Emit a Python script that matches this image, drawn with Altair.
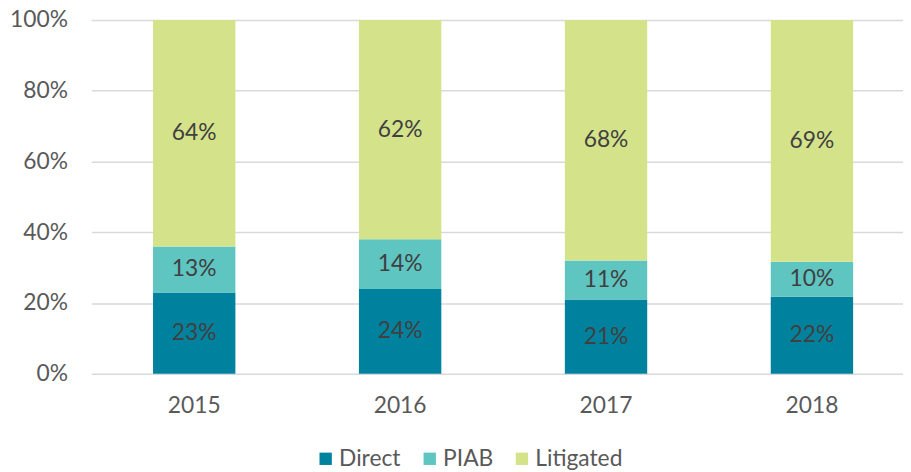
import altair as alt
import pandas as pd

years = ["2015", "2016", "2017", "2018"]
categories = ["Direct", "PIAB", "Litigated"]
direct = [23, 24, 21, 22]
piab = [13, 14, 11, 10]
litigated = [64, 62, 68, 69]
colors = ["#00829F", "#5EC5C1", "#D4E38A"]

rows = []
for i, y in enumerate(years):
    for j, (c, vals) in enumerate(zip(categories, [direct, piab, litigated])):
        rows.append({"year": y, "cat": c, "order": j, "value": vals[i],
                     "label": f"{vals[i]}%"})
df = pd.DataFrame(rows)

FONT = "Lato"
FS = 23

base = alt.Chart(df).transform_stack(
    stack="value", as_=["v0", "v1"], groupby=["year"],
    offset="normalize", sort=[alt.SortField("order", order="ascending")]
).transform_calculate(mid="(datum.v0 + datum.v1) / 2")

x = alt.X("year:N", title=None,
          scale=alt.Scale(range=[2, 833], paddingInner=0.6, paddingOuter=0.3),
          axis=alt.Axis(labelAngle=0, labelFont=FONT, labelFontSize=FS,
                        labelColor="#595959", domain=False, ticks=False,
                        labelPadding=21))

bars = base.mark_bar().encode(
    x=x,
    y=alt.Y("v0:Q", title=None,
            scale=alt.Scale(domain=[0, 1], nice=False),
            axis=alt.Axis(format=".0%", values=[0, 0.2, 0.4, 0.6, 0.8, 1.0],
                          labelFont=FONT, labelFontSize=FS, labelColor="#595959",
                          domain=False, ticks=False, labelPadding=22,
                          gridColor="#D9D9D9", gridWidth=1.5)),
    y2="v1:Q",
    color=alt.Color("cat:N", sort=categories,
                    scale=alt.Scale(domain=categories, range=colors),
                    legend=alt.Legend(title=None, orient="none", direction="horizontal",
                                      legendX=227, legendY=431,
                                      symbolType="square", symbolSize=155,
                                      symbolStrokeWidth=0, symbolOpacity=1,
                                      labelFont=FONT, labelFontSize=FS,
                                      labelColor="#595959", columnPadding=17,
                                      labelOffset=2)),
)

text = base.mark_text(font=FONT, fontSize=FS, color="#404040").encode(
    x=alt.X("year:N"),
    y=alt.Y("mid:Q"),
    text="label:N",
)

chart = alt.layer(bars, text).properties(
    width=821, height=357,
    autosize=alt.AutoSizeParams(type="none"),
    padding={"left": 82, "top": 10, "right": 0, "bottom": 96},
).configure_view(stroke=None)

chart.save("out.html", embed_options={"renderer": "svg", "actions": False})
